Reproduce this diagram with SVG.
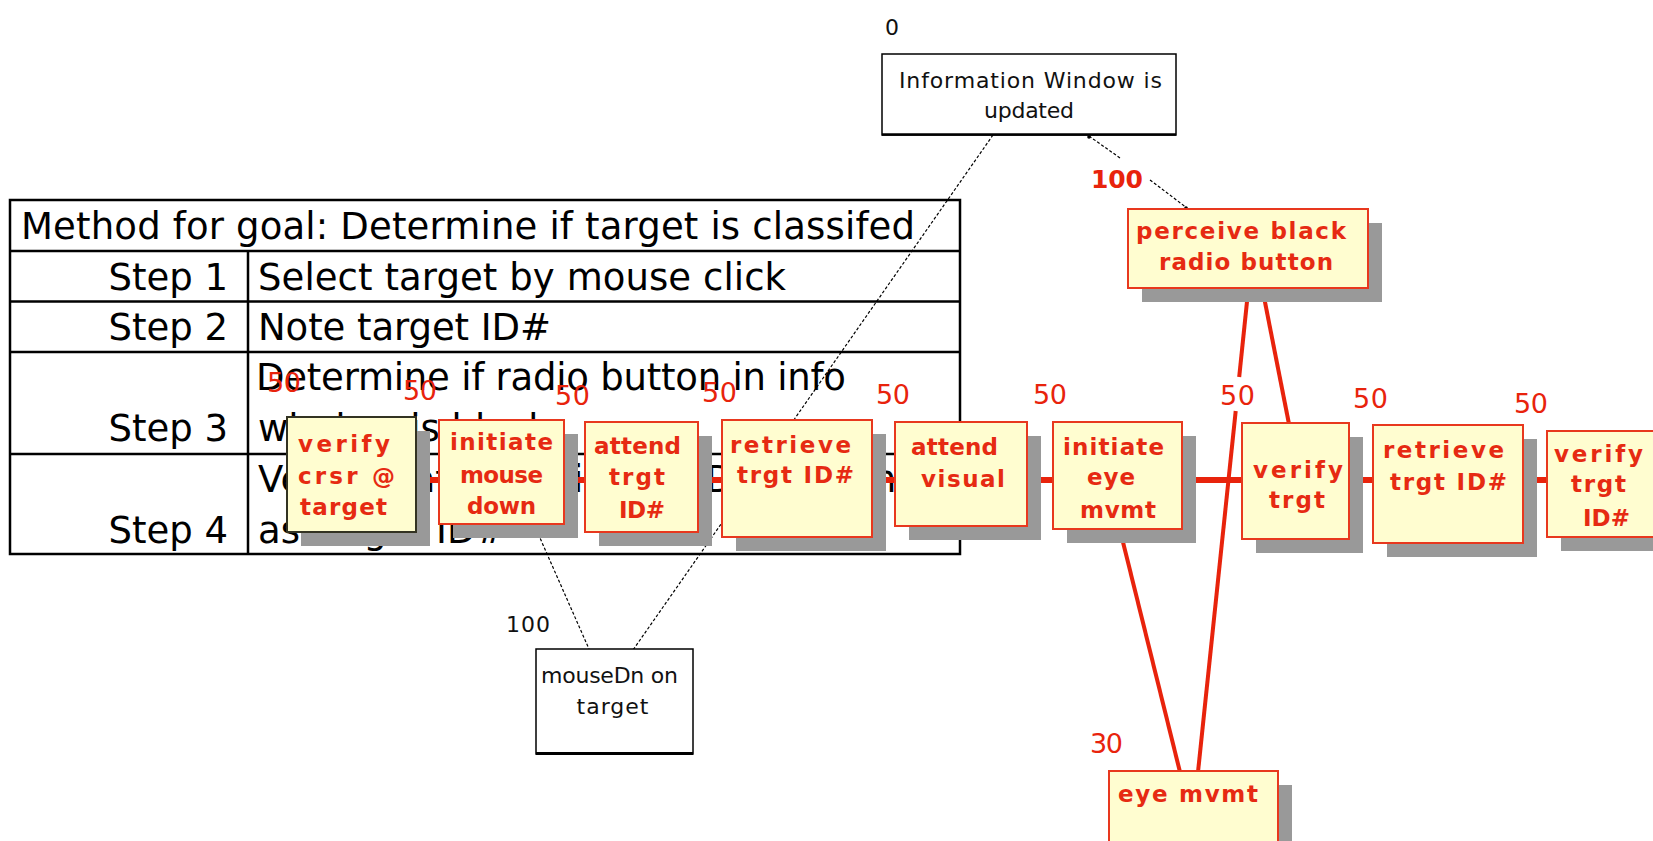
<svg xmlns="http://www.w3.org/2000/svg" width="1653" height="841" viewBox="0 0 1653 841">
<defs>
<style>
.tbl{fill:none;stroke:#000;stroke-width:2.5}
.tt{font-family:"DejaVu Sans",sans-serif;font-size:37px;fill:#000}
.dash{fill:none;stroke:#000;stroke-width:1.2;stroke-dasharray:3 2}
.rl{fill:none;stroke:#E8230C;stroke-width:4}
.rm{fill:none;stroke:#E8230C;stroke-width:6}
.shadow{fill:#999}
.box{fill:#FFFDD0;stroke:#E8381E;stroke-width:2}
.boxk{fill:#FFFDD0;stroke:#333322;stroke-width:2}
.bt{font-family:"DejaVu Sans",sans-serif;font-weight:bold;font-size:23px;fill:#E62A12}
.lab{font-family:"DejaVu Sans",sans-serif;font-size:27px;fill:#E8230C}
.labb{font-family:"DejaVu Sans",sans-serif;font-weight:bold;font-size:25px;fill:#E8230C}
.klab{font-family:"DejaVu Sans",sans-serif;font-size:22px;fill:#111}
.wbox{fill:#fff;stroke:#000;stroke-width:1.5}
.wt{font-family:"DejaVu Sans",sans-serif;font-size:22px;fill:#111}
</style>
</defs>
<rect width="1653" height="841" fill="#fff"/>

<g id="table">
<rect x="10" y="200" width="950" height="354" class="tbl"/>
<line x1="10" y1="251" x2="960" y2="251" class="tbl"/>
<line x1="10" y1="301.5" x2="960" y2="301.5" class="tbl"/>
<line x1="10" y1="352" x2="960" y2="352" class="tbl"/>
<line x1="10" y1="454" x2="960" y2="454" class="tbl"/>
<line x1="248" y1="251" x2="248" y2="554" class="tbl"/>
<text class="tt" x="21" y="239" textLength="894">Method for goal: Determine if target is classifed</text>
<text class="tt" x="228" y="290" text-anchor="end">Step 1</text>
<text class="tt" x="258" y="290" textLength="528">Select target by mouse click</text>
<text class="tt" x="228" y="340" text-anchor="end">Step 2</text>
<text class="tt" x="258" y="340" textLength="293">Note target ID#</text>
<text class="tt" x="256" y="390" textLength="590">Determine if radio button in info</text>
<text class="tt" x="258" y="441">window is black</text>
<text class="tt" x="228" y="441" text-anchor="end">Step 3</text>
<text class="tt" x="258" y="492">Verify that info window ID# is same</text>
<text class="tt" x="258" y="543">as target ID#</text>
<text class="tt" x="228" y="543" text-anchor="end">Step 4</text>
</g>

<g id="connectors">
<line x1="993" y1="135" x2="633" y2="650" class="dash"/>
<line x1="510" y1="470" x2="589" y2="649" class="dash"/>
<line x1="1089" y1="136" x2="1120" y2="158" class="dash"/>
<line x1="1150" y1="180" x2="1187" y2="208" class="dash"/>
<circle cx="1089" cy="137" r="1.8" fill="#000"/>
<circle cx="1186" cy="208" r="1.8" fill="#000"/>
<line x1="400" y1="480" x2="1555" y2="480" class="rm"/>
<line x1="1248" y1="292" x2="1239.2" y2="377" class="rl"/>
<line x1="1235.7" y1="411" x2="1198" y2="772" class="rl"/>
<line x1="1263" y1="292" x2="1289" y2="424" class="rl"/>
<line x1="1120" y1="530" x2="1180" y2="772" class="rl"/>
<text class="lab" x="267" y="392" textLength="34">50</text>
<text class="lab" x="403" y="400" textLength="34">50</text>
<text class="lab" x="555" y="405" textLength="35">50</text>
<text class="lab" x="702" y="402" textLength="35">50</text>
<text class="lab" x="876" y="404" textLength="34">50</text>
<text class="lab" x="1033" y="404" textLength="34">50</text>
<text class="lab" x="1220" y="405" textLength="35">50</text>
<text class="lab" x="1353" y="408" textLength="35">50</text>
<text class="lab" x="1514" y="413" textLength="34">50</text>
<text class="labb" x="1091" y="188" textLength="52">100</text>
<text class="lab" x="1090" y="753" textLength="33">30</text>
<text class="klab" x="885" y="35" textLength="12">0</text>
<text class="klab" x="506" y="632" textLength="44">100</text>
</g>

<g id="info-window">
<rect x="882" y="54" width="294" height="81" class="wbox"/>
<line x1="882" y1="134.5" x2="1176" y2="134.5" stroke="#000" stroke-width="2.5"/>
<text class="wt" x="899" y="88" textLength="263">Information Window is</text>
<text class="wt" x="984" y="118" textLength="90">updated</text>
</g>

<g id="mousedn">
<rect x="536" y="649" width="157" height="105" class="wbox"/>
<line x1="536" y1="753.5" x2="693" y2="753.5" stroke="#000" stroke-width="3"/>
<text class="wt" x="541" y="683" textLength="137">mouseDn on</text>
<text class="wt" x="576.5" y="714" textLength="72">target</text>
</g>

<g id="perceive">
<rect x="1142" y="223" width="240" height="79" class="shadow"/>
<rect x="1128" y="209" width="240" height="79" class="box"/>
<text class="bt" x="1136" y="239" textLength="210">perceive black</text>
<text class="bt" x="1159" y="270" textLength="174">radio button</text>
</g>

<g id="verify-crsr">
<rect x="301" y="431" width="129" height="115" class="shadow"/>
<rect x="287" y="417" width="129" height="115" class="boxk"/>
<text class="bt" x="298" y="452" textLength="92">verify</text>
<text class="bt" x="298" y="484" textLength="97">crsr @</text>
<text class="bt" x="300" y="515" textLength="87">target</text>
</g>

<g id="initiate-mouse">
<rect x="453" y="434" width="125" height="104" class="shadow"/>
<rect x="439" y="420" width="125" height="104" class="box"/>
<text class="bt" x="450" y="450" textLength="103">initiate</text>
<text class="bt" x="460" y="483" textLength="83">mouse</text>
<text class="bt" x="467" y="514" textLength="69">down</text>
</g>

<g id="attend-trgt">
<rect x="599" y="436" width="113" height="110" class="shadow"/>
<rect x="585" y="422" width="113" height="110" class="box"/>
<text class="bt" x="594" y="454" textLength="87">attend</text>
<text class="bt" x="609" y="485" textLength="56">trgt</text>
<text class="bt" x="619" y="518" textLength="46">ID#</text>
</g>

<g id="retrieve-1">
<rect x="736" y="434" width="150" height="117" class="shadow"/>
<rect x="722" y="420" width="150" height="117" class="box"/>
<text class="bt" x="730" y="453" textLength="121">retrieve</text>
<text class="bt" x="737" y="483" textLength="117">trgt ID#</text>
</g>

<g id="attend-visual">
<rect x="909" y="436" width="132" height="104" class="shadow"/>
<rect x="895" y="422" width="132" height="104" class="box"/>
<text class="bt" x="911" y="455" textLength="87">attend</text>
<text class="bt" x="921" y="487" textLength="84">visual</text>
</g>

<g id="initiate-eye">
<rect x="1067" y="436" width="129" height="107" class="shadow"/>
<rect x="1053" y="422" width="129" height="107" class="box"/>
<text class="bt" x="1063" y="455" textLength="101">initiate</text>
<text class="bt" x="1087" y="485" textLength="48">eye</text>
<text class="bt" x="1080" y="518" textLength="76">mvmt</text>
</g>

<g id="verify-trgt">
<rect x="1256" y="437" width="107" height="116" class="shadow"/>
<rect x="1242" y="423" width="107" height="116" class="box"/>
<text class="bt" x="1253" y="478" textLength="90">verify</text>
<text class="bt" x="1269" y="508" textLength="56">trgt</text>
</g>

<g id="retrieve-2">
<rect x="1387" y="439" width="150" height="118" class="shadow"/>
<rect x="1373" y="425" width="150" height="118" class="box"/>
<text class="bt" x="1383" y="458" textLength="121">retrieve</text>
<text class="bt" x="1390" y="490" textLength="117">trgt ID#</text>
</g>

<g id="verify-trgt-id">
<rect x="1561" y="445" width="120" height="106" class="shadow"/>
<rect x="1547" y="431" width="120" height="106" class="box"/>
<text class="bt" x="1554" y="462" textLength="89">verify</text>
<text class="bt" x="1571" y="492" textLength="55">trgt</text>
<text class="bt" x="1583" y="526" textLength="47">ID#</text>
</g>

<g id="eye-mvmt">
<rect x="1123" y="785" width="169" height="90" class="shadow"/>
<rect x="1109" y="771" width="169" height="90" class="box"/>
<text class="bt" x="1118" y="802" textLength="140">eye mvmt</text>
</g>
</svg>
